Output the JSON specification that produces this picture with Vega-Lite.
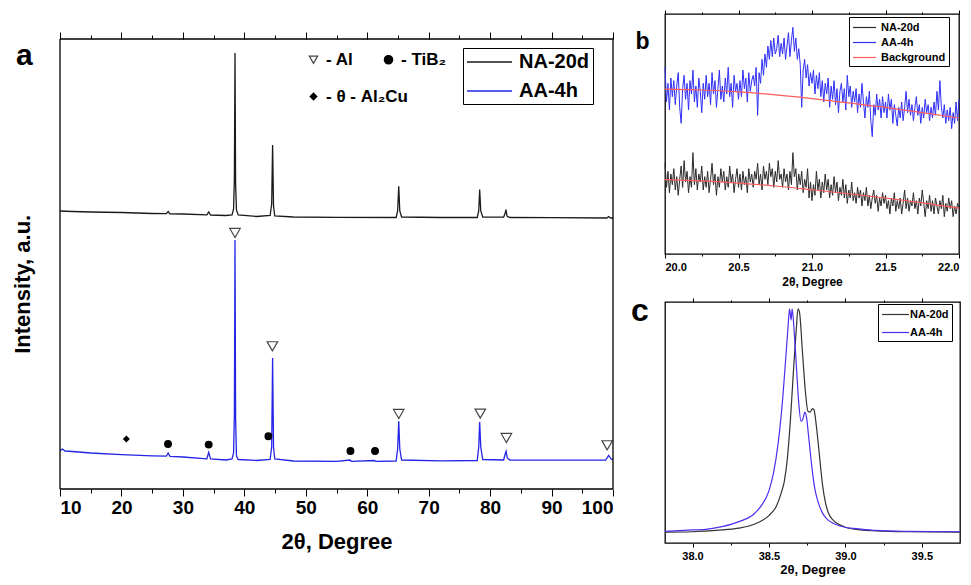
{
"$schema": "https://vega.github.io/schema/vega-lite/v6.json",
"padding": {"left": 12, "top": 8, "right": 5, "bottom": 0},
"background": "white",
"config": {
  "font": "Liberation Sans",
  "view": {"stroke": "#000", "strokeWidth": 1.3},
  "axis": {"domain": false, "grid": false, "tickColor": "#000", "tickWidth": 1, "labelColor": "#000", "titleColor": "#000", "labelFontWeight": "bold", "titleFontWeight": "bold"},
  "legend": {"strokeColor": "#000", "fillColor": "#fff", "labelColor": "#000"},
  "title": {"color": "#000"}
},
"resolve": {"scale": {"color": "independent", "shape": "independent", "fill": "independent", "stroke": "independent"}},
"columns": 2,
"spacing": 14,
"concat": [
 {
  "width": 553, "height": 475,
  "view": {"stroke": null},
  "resolve": {"axis": {"x": "independent"}, "scale": {"shape": "independent", "fill": "independent", "stroke": "independent"}},
  "layer": [
   {
    "data": {"values": [
     {"s":"NA-20d","x":10,"I":278},{"s":"NA-20d","x":12,"I":277.5},{"s":"NA-20d","x":15,"I":277},{"s":"NA-20d","x":20,"I":276.5},{"s":"NA-20d","x":25,"I":275.5},
     {"s":"NA-20d","x":27.3,"I":275.3},{"s":"NA-20d","x":27.6,"I":277.5},{"s":"NA-20d","x":27.9,"I":275.2},{"s":"NA-20d","x":30,"I":275},
     {"s":"NA-20d","x":33.9,"I":274.2},{"s":"NA-20d","x":34.2,"I":277},{"s":"NA-20d","x":34.5,"I":274},{"s":"NA-20d","x":37,"I":273.5},
     {"s":"NA-20d","x":38.0,"I":274},{"s":"NA-20d","x":38.25,"I":280},{"s":"NA-20d","x":38.38,"I":310},{"s":"NA-20d","x":38.48,"I":436},{"s":"NA-20d","x":38.58,"I":305},{"s":"NA-20d","x":38.72,"I":279},
     {"s":"NA-20d","x":39,"I":274},{"s":"NA-20d","x":42,"I":272.5},{"s":"NA-20d","x":44.2,"I":273.5},{"s":"NA-20d","x":44.45,"I":285},{"s":"NA-20d","x":44.6,"I":344},{"s":"NA-20d","x":44.75,"I":283},{"s":"NA-20d","x":44.95,"I":273},
     {"s":"NA-20d","x":48,"I":272},{"s":"NA-20d","x":55,"I":271.7},{"s":"NA-20d","x":64.7,"I":271.5},{"s":"NA-20d","x":64.95,"I":278},{"s":"NA-20d","x":65.13,"I":302.7},{"s":"NA-20d","x":65.3,"I":278},{"s":"NA-20d","x":65.6,"I":272},
     {"s":"NA-20d","x":72,"I":271.5},{"s":"NA-20d","x":77.9,"I":271.5},{"s":"NA-20d","x":78.15,"I":278},{"s":"NA-20d","x":78.3,"I":299.4},{"s":"NA-20d","x":78.48,"I":278},{"s":"NA-20d","x":78.8,"I":272},
     {"s":"NA-20d","x":82.2,"I":271.8},{"s":"NA-20d","x":82.45,"I":276},{"s":"NA-20d","x":82.58,"I":279.4},{"s":"NA-20d","x":82.75,"I":273},{"s":"NA-20d","x":83.2,"I":271.5},
     {"s":"NA-20d","x":90,"I":271.3},{"s":"NA-20d","x":99,"I":271},{"s":"NA-20d","x":99.3,"I":272.5},{"s":"NA-20d","x":99.6,"I":271},{"s":"NA-20d","x":100,"I":271},
     {"s":"AA-4h","x":10,"I":38.4},{"s":"AA-4h","x":10.4,"I":40},{"s":"AA-4h","x":10.8,"I":38},{"s":"AA-4h","x":12,"I":37.5},{"s":"AA-4h","x":15,"I":36},{"s":"AA-4h","x":20,"I":34.4},{"s":"AA-4h","x":25,"I":33.2},
     {"s":"AA-4h","x":27.3,"I":32.8},{"s":"AA-4h","x":27.6,"I":36},{"s":"AA-4h","x":27.9,"I":32.6},{"s":"AA-4h","x":30,"I":32},
     {"s":"AA-4h","x":33.9,"I":30.2},{"s":"AA-4h","x":34.2,"I":36.7},{"s":"AA-4h","x":34.5,"I":30},{"s":"AA-4h","x":37,"I":29},
     {"s":"AA-4h","x":38.0,"I":30},{"s":"AA-4h","x":38.25,"I":36},{"s":"AA-4h","x":38.38,"I":75},{"s":"AA-4h","x":38.48,"I":249},{"s":"AA-4h","x":38.58,"I":70},{"s":"AA-4h","x":38.72,"I":33},
     {"s":"AA-4h","x":39,"I":29.5},{"s":"AA-4h","x":42,"I":28.5},{"s":"AA-4h","x":44.2,"I":29.5},{"s":"AA-4h","x":44.45,"I":42},{"s":"AA-4h","x":44.6,"I":131},{"s":"AA-4h","x":44.75,"I":42},{"s":"AA-4h","x":44.95,"I":30},
     {"s":"AA-4h","x":48,"I":28},{"s":"AA-4h","x":55,"I":27.7},{"s":"AA-4h","x":57.2,"I":29},{"s":"AA-4h","x":57.4,"I":27.7},{"s":"AA-4h","x":61.2,"I":28.5},{"s":"AA-4h","x":61.4,"I":27.6},
     {"s":"AA-4h","x":64.7,"I":28},{"s":"AA-4h","x":64.95,"I":40},{"s":"AA-4h","x":65.13,"I":67.7},{"s":"AA-4h","x":65.3,"I":40},{"s":"AA-4h","x":65.6,"I":29},
     {"s":"AA-4h","x":72,"I":28.2},{"s":"AA-4h","x":77.9,"I":28.5},{"s":"AA-4h","x":78.15,"I":42},{"s":"AA-4h","x":78.3,"I":67},{"s":"AA-4h","x":78.48,"I":42},{"s":"AA-4h","x":78.8,"I":29.5},
     {"s":"AA-4h","x":82.2,"I":29},{"s":"AA-4h","x":82.45,"I":35},{"s":"AA-4h","x":82.6,"I":37.7},{"s":"AA-4h","x":82.8,"I":31},{"s":"AA-4h","x":83.2,"I":29},
     {"s":"AA-4h","x":90,"I":28.8},{"s":"AA-4h","x":98.8,"I":29},{"s":"AA-4h","x":99.3,"I":33.5},{"s":"AA-4h","x":99.7,"I":30},{"s":"AA-4h","x":100,"I":29.5}
    ]},
    "mark": {"type": "line", "strokeWidth": 1.3},
    "encoding": {
     "x": {"field": "x", "type": "quantitative", "scale": {"domain": [10, 100], "nice": false},
       "axis": {"orient": "bottom", "values": [10,15,20,25,30,35,40,45,50,55,60,65,70,75,80,85,90,95,100],
         "labelExpr": "datum.value % 10 === 0 ? datum.label : ''",
         "tickSize": {"condition": {"test": "datum.value % 10 !== 0", "value": 4}, "value": 7},
         "labelFontSize": 19, "labelPadding": 2, "title": "2θ, Degree", "titleFontSize": 22, "titlePadding": 14}},
     "y": {"field": "I", "type": "quantitative", "scale": {"domain": [0, 475], "nice": false}, "axis": null},
     "color": {"field": "s", "type": "nominal", "scale": {"domain": ["NA-20d", "AA-4h"], "range": ["#1a1a1a", "#2424e6"]},
       "legend": {"title": null, "orient": "none", "legendX": 403, "legendY": 34, "symbolType": "M-1,0H3.5", "symbolSize": 400, "symbolStrokeWidth": 1.5,
         "labelFontSize": 20, "labelFontWeight": "bold", "padding": 3, "rowPadding": 8, "labelOffset": 31, "strokeColor": "#000", "fillColor": "#fff"}}
    }
   },
   {
    "data": {"values": [
     {"p":"- Al","x":38.48,"I":256},{"p":"- Al","x":44.57,"I":142.7},{"p":"- Al","x":65.13,"I":75},{"p":"- Al","x":78.4,"I":75.4},{"p":"- Al","x":82.65,"I":51},{"p":"- Al","x":99.05,"I":43.7},
     {"p":"- TiB₂","x":27.58,"I":45},{"p":"- TiB₂","x":34.2,"I":44.4},{"p":"- TiB₂","x":43.92,"I":52.7},{"p":"- TiB₂","x":57.27,"I":38},{"p":"- TiB₂","x":61.27,"I":38}
    ]},
    "mark": {"type": "point", "strokeWidth": 1.2, "opacity": 1},
    "encoding": {
     "x": {"field": "x", "type": "quantitative",
       "axis": {"orient": "top", "offset": -25, "values": [10,15,20,25,30,35,40,45,50,55,60,65,70,75,80,85,90,95,100], "labels": false,
         "tickSize": {"condition": {"test": "datum.value % 10 !== 0", "value": 4}, "value": 7}, "title": null}},
     "y": {"field": "I", "type": "quantitative", "axis": null},
     "shape": {"field": "p", "type": "nominal", "scale": {"domain": ["- Al", "- TiB₂"], "range": ["triangle-down", "circle"]},
       "legend": {"title": null, "orient": "none", "legendX": 245, "legendY": 37, "direction": "horizontal", "columnPadding": 26,
         "symbolSize": 70, "symbolStrokeWidth": 1.2, "labelFontSize": 17, "labelFontWeight": "bold", "labelOffset": 4, "padding": 0,
         "strokeColor": "transparent", "fillColor": "transparent"}},
     "fill": {"field": "p", "type": "nominal", "scale": {"domain": ["- Al", "- TiB₂"], "range": ["transparent", "#000"]}},
     "stroke": {"field": "p", "type": "nominal", "scale": {"domain": ["- Al", "- TiB₂"], "range": ["#444", "#000"]}},
     "size": {"condition": {"test": "datum.p === '- Al'", "value": 110}, "value": 45}
    }
   },
   {
    "data": {"values": [{"p":"- θ - Al₂Cu","x":20.8,"I":50}]},
    "mark": {"type": "point", "filled": true, "color": "#000", "opacity": 1, "size": 50},
    "encoding": {
     "x": {"field": "x", "type": "quantitative", "axis": null},
     "y": {"field": "I", "type": "quantitative", "axis": null},
     "shape": {"field": "p", "type": "nominal", "scale": {"domain": ["- θ - Al₂Cu"], "range": ["diamond"]},
       "legend": {"title": null, "orient": "none", "legendX": 245, "legendY": 74,
         "symbolSize": 70, "labelFontSize": 17, "labelFontWeight": "bold", "labelOffset": 4, "padding": 0,
         "strokeColor": "transparent", "fillColor": "transparent"}}
    }
   },
   {
    "data": {"values": [
     {"x":10,"x2":100,"I":450,"I2":450},{"x":10,"x2":100,"I":0,"I2":0},{"x":10,"x2":10,"I":0,"I2":450},{"x":100,"x2":100,"I":0,"I2":450}
    ]},
    "mark": {"type": "rule", "color": "#000", "strokeWidth": 1.3},
    "encoding": {
     "x": {"field": "x", "type": "quantitative", "axis": null},
     "x2": {"field": "x2"},
     "y": {"field": "I", "type": "quantitative", "axis": null},
     "y2": {"field": "I2"}
    }
   },
   {
    "data": {"values": [
     {"t":"a","x":4.2,"I":433,"a":0,"fs":30},
     {"t":"Intensity, a.u.","x":4.0,"I":204.7,"a":270,"fs":22}
    ]},
    "mark": {"type": "text", "fontWeight": "bold", "color": "#000", "align": "center", "baseline": "middle"},
    "encoding": {
     "x": {"field": "x", "type": "quantitative", "axis": null},
     "y": {"field": "I", "type": "quantitative", "axis": null},
     "text": {"field": "t"},
     "angle": {"field": "a", "type": "quantitative", "scale": null},
     "size": {"field": "fs", "type": "quantitative", "scale": null}
    }
   }
  ]
 },
 {
  "resolve": {"scale": {"color": "independent"}},
  "spacing": 6,
  "vconcat": [
   {
    "width": 294, "height": 240,
    "resolve": {"axis": {"x": "independent"}},
    "layer": [
     {
      "data": {"values": [
{"x":20.00,"N":2.9,"A":6.5},{"x":20.01,"N":2.0,"A":5.2},{"x":20.02,"N":2.6,"A":5.9},{"x":20.03,"N":1.8,"A":4.9},{"x":20.04,"N":2.5,"A":6.1},{"x":20.05,"N":2.1,"A":5.4},{"x":20.06,"N":2.7,"A":6.0},{"x":20.07,"N":1.9,"A":5.1},{"x":20.08,"N":2.4,"A":5.8},{"x":20.09,"N":1.7,"A":6.3},
{"x":20.10,"N":2.3,"A":5.0},{"x":20.11,"N":2.8,"A":4.4},{"x":20.12,"N":2.0,"A":5.7},{"x":20.13,"N":3.0,"A":6.2},{"x":20.14,"N":2.2,"A":5.3},{"x":20.15,"N":2.6,"A":5.9},{"x":20.16,"N":1.8,"A":4.9},{"x":20.17,"N":2.4,"A":6.0},{"x":20.18,"N":2.0,"A":5.5},{"x":20.19,"N":3.3,"A":6.4},
{"x":20.20,"N":2.1,"A":5.2},{"x":20.21,"N":2.7,"A":5.8},{"x":20.22,"N":1.9,"A":5.0},{"x":20.23,"N":2.5,"A":6.1},{"x":20.24,"N":2.2,"A":5.6},{"x":20.25,"N":2.8,"A":4.8},{"x":20.26,"N":1.9,"A":5.9},{"x":20.27,"N":2.4,"A":5.3},{"x":20.28,"N":2.0,"A":6.2},{"x":20.29,"N":2.6,"A":5.4},
{"x":20.30,"N":1.8,"A":5.9},{"x":20.31,"N":2.3,"A":5.1},{"x":20.32,"N":2.9,"A":6.3},{"x":20.33,"N":2.1,"A":5.5},{"x":20.34,"N":2.5,"A":6.0},{"x":20.35,"N":1.7,"A":5.0},{"x":20.36,"N":2.4,"A":5.7},{"x":20.37,"N":2.0,"A":6.4},{"x":20.38,"N":2.7,"A":5.3},{"x":20.39,"N":2.2,"A":5.8},
{"x":20.40,"N":2.6,"A":5.2},{"x":20.41,"N":1.9,"A":6.1},{"x":20.42,"N":2.4,"A":5.5},{"x":20.43,"N":2.0,"A":6.5},{"x":20.44,"N":2.8,"A":5.4},{"x":20.45,"N":2.2,"A":5.9},{"x":20.46,"N":2.5,"A":5.0},{"x":20.47,"N":1.8,"A":6.2},{"x":20.48,"N":2.3,"A":5.6},{"x":20.49,"N":2.7,"A":5.9},
{"x":20.50,"N":2.0,"A":5.3},{"x":20.51,"N":2.5,"A":6.0},{"x":20.52,"N":1.9,"A":5.4},{"x":20.53,"N":2.6,"A":6.4},{"x":20.54,"N":2.1,"A":5.7},{"x":20.55,"N":2.4,"A":6.1},{"x":20.56,"N":1.8,"A":5.2},{"x":20.57,"N":2.7,"A":6.3},{"x":20.58,"N":2.2,"A":5.6},{"x":20.59,"N":2.5,"A":6.0},
{"x":20.60,"N":2.0,"A":6.2},{"x":20.61,"N":2.6,"A":5.8},{"x":20.62,"N":2.3,"A":6.5},{"x":20.63,"N":2.9,"A":4.7},{"x":20.64,"N":2.1,"A":6.3},{"x":20.65,"N":2.5,"A":5.9},{"x":20.66,"N":1.9,"A":6.8},{"x":20.67,"N":2.8,"A":6.2},{"x":20.68,"N":2.3,"A":7.0},{"x":20.69,"N":2.6,"A":6.5},
{"x":20.70,"N":2.1,"A":7.3},{"x":20.71,"N":2.9,"A":6.8},{"x":20.72,"N":2.4,"A":7.5},{"x":20.73,"N":2.7,"A":6.9},{"x":20.74,"N":2.0,"A":7.6},{"x":20.75,"N":2.6,"A":7.0},{"x":20.76,"N":2.2,"A":7.2},{"x":20.77,"N":3.0,"A":7.7},{"x":20.78,"N":2.3,"A":6.9},{"x":20.79,"N":2.5,"A":7.4},
{"x":20.80,"N":2.0,"A":7.0},{"x":20.81,"N":2.7,"A":7.6},{"x":20.82,"N":2.2,"A":6.8},{"x":20.83,"N":2.5,"A":7.3},{"x":20.84,"N":1.9,"A":7.8},{"x":20.85,"N":2.6,"A":6.9},{"x":20.86,"N":2.1,"A":7.5},{"x":20.87,"N":3.3,"A":8.0},{"x":20.88,"N":2.4,"A":7.1},{"x":20.89,"N":2.7,"A":7.6},
{"x":20.90,"N":1.9,"A":6.8},{"x":20.91,"N":2.5,"A":7.2},{"x":20.92,"N":2.1,"A":6.6},{"x":20.93,"N":2.6,"A":5.0},{"x":20.94,"N":1.8,"A":6.4},{"x":20.95,"N":2.3,"A":6.8},{"x":20.96,"N":2.0,"A":6.1},{"x":20.97,"N":2.7,"A":6.6},{"x":20.98,"N":1.6,"A":5.8},{"x":20.99,"N":2.2,"A":6.3},
{"x":21.00,"N":1.5,"A":5.9},{"x":21.01,"N":2.1,"A":6.4},{"x":21.02,"N":1.7,"A":5.5},{"x":21.03,"N":2.6,"A":6.2},{"x":21.04,"N":1.9,"A":5.7},{"x":21.05,"N":2.3,"A":6.3},{"x":21.06,"N":1.6,"A":5.4},{"x":21.07,"N":2.2,"A":6.0},{"x":21.08,"N":1.8,"A":5.2},{"x":21.09,"N":2.5,"A":5.9},
{"x":21.10,"N":1.9,"A":5.5},{"x":21.11,"N":2.3,"A":6.1},{"x":21.12,"N":1.6,"A":5.0},{"x":21.13,"N":2.1,"A":5.8},{"x":21.14,"N":1.7,"A":5.3},{"x":21.15,"N":2.4,"A":6.0},{"x":21.16,"N":1.8,"A":5.1},{"x":21.17,"N":2.2,"A":5.7},{"x":21.18,"N":1.5,"A":4.8},{"x":21.19,"N":2.0,"A":5.6},
{"x":21.20,"N":1.7,"A":5.9},{"x":21.21,"N":2.3,"A":5.2},{"x":21.22,"N":1.6,"A":5.7},{"x":21.23,"N":2.1,"A":4.9},{"x":21.24,"N":1.4,"A":6.2},{"x":21.25,"N":1.9,"A":5.4},{"x":21.26,"N":1.6,"A":5.8},{"x":21.27,"N":2.2,"A":5.0},{"x":21.28,"N":1.5,"A":5.6},{"x":21.29,"N":1.8,"A":5.2},
{"x":21.30,"N":1.4,"A":5.7},{"x":21.31,"N":2.0,"A":4.8},{"x":21.32,"N":1.6,"A":5.5},{"x":21.33,"N":1.9,"A":5.0},{"x":21.34,"N":1.3,"A":5.9},{"x":21.35,"N":1.8,"A":5.2},{"x":21.36,"N":1.5,"A":4.6},{"x":21.37,"N":2.0,"A":5.4},{"x":21.38,"N":1.3,"A":5.0},{"x":21.39,"N":1.7,"A":5.6},
{"x":21.40,"N":1.2,"A":4.5},{"x":21.41,"N":1.6,"A":3.9},{"x":21.42,"N":1.9,"A":5.1},{"x":21.43,"N":1.4,"A":4.7},{"x":21.44,"N":1.7,"A":5.5},{"x":21.45,"N":1.1,"A":4.9},{"x":21.46,"N":1.6,"A":5.3},{"x":21.47,"N":1.3,"A":4.6},{"x":21.48,"N":1.8,"A":5.4},{"x":21.49,"N":1.4,"A":4.8},
{"x":21.50,"N":1.7,"A":5.2},{"x":21.51,"N":1.2,"A":4.6},{"x":21.52,"N":1.5,"A":5.5},{"x":21.53,"N":1.0,"A":4.9},{"x":21.54,"N":1.6,"A":5.3},{"x":21.55,"N":1.3,"A":4.4},{"x":21.56,"N":1.8,"A":5.1},{"x":21.57,"N":1.1,"A":4.7},{"x":21.58,"N":1.5,"A":4.3},{"x":21.59,"N":1.2,"A":5.0},
{"x":21.60,"N":1.6,"A":4.6},{"x":21.61,"N":1.0,"A":5.2},{"x":21.62,"N":1.4,"A":4.5},{"x":21.63,"N":1.9,"A":5.0},{"x":21.64,"N":1.2,"A":5.6},{"x":21.65,"N":1.6,"A":4.8},{"x":21.66,"N":1.1,"A":5.3},{"x":21.67,"N":1.5,"A":4.7},{"x":21.68,"N":1.3,"A":5.1},{"x":21.69,"N":1.8,"A":4.5},
{"x":21.70,"N":1.2,"A":5.0},{"x":21.71,"N":1.5,"A":5.4},{"x":21.72,"N":1.0,"A":4.7},{"x":21.73,"N":1.6,"A":5.1},{"x":21.74,"N":1.3,"A":4.4},{"x":21.75,"N":1.9,"A":5.0},{"x":21.76,"N":1.4,"A":4.6},{"x":21.77,"N":0.9,"A":5.3},{"x":21.78,"N":1.5,"A":4.8},{"x":21.79,"N":1.2,"A":5.1},
{"x":21.80,"N":1.7,"A":4.5},{"x":21.81,"N":1.1,"A":5.0},{"x":21.82,"N":1.5,"A":4.6},{"x":21.83,"N":1.0,"A":5.2},{"x":21.84,"N":1.6,"A":4.7},{"x":21.85,"N":1.3,"A":5.6},{"x":21.86,"N":1.0,"A":4.9},{"x":21.87,"N":1.5,"A":6.0},{"x":21.88,"N":1.2,"A":5.0},{"x":21.89,"N":1.7,"A":4.6},
{"x":21.90,"N":0.9,"A":5.1},{"x":21.91,"N":1.4,"A":4.4},{"x":21.92,"N":1.1,"A":4.9},{"x":21.93,"N":1.6,"A":4.5},{"x":21.94,"N":1.2,"A":5.0},{"x":21.95,"N":1.5,"A":4.2},{"x":21.96,"N":0.9,"A":4.8},{"x":21.97,"N":1.3,"A":4.4},{"x":21.98,"N":1.0,"A":5.2},{"x":21.99,"N":1.4,"A":4.5},
{"x":22.00,"N":1.2,"A":5.3}
      ]},
      "transform": [{"fold": ["N", "A"], "as": ["s", "I"]}],
      "mark": {"type": "line", "strokeWidth": 1},
      "encoding": {
       "x": {"field": "x", "type": "quantitative", "scale": {"domain": [20, 22], "nice": false},
         "axis": {"orient": "bottom", "values": [20,20.25,20.5,20.75,21,21.25,21.5,21.75,22],
           "labelExpr": "(datum.value * 2) % 1 === 0 ? format(datum.value, '.1f') : ''",
           "tickSize": {"condition": {"test": "(datum.value * 2) % 1 !== 0", "value": 2}, "value": 4},
           "labelFontSize": 11, "labelPadding": 3, "title": "2θ, Degree", "titleFontSize": 12, "titlePadding": 4}},
       "y": {"field": "I", "type": "quantitative", "scale": {"domain": [-0.5, 8.5], "nice": false},
         "axis": {"values": [0,1,2,3,4,5,6,7,8], "tickSize": 4, "labels": false, "title": "Intensity, a.u.", "titleFontSize": 12, "titlePadding": 17}},
       "color": {"field": "s", "type": "nominal", "scale": {"domain": ["N", "A", "Background"], "range": ["#2a2a2a", "#3030f5", "#ff5c5c"]},
         "legend": {"title": null, "orient": "none", "legendX": 184, "legendY": 3, "symbolType": "M-1,0H2.54", "symbolSize": 169, "symbolStrokeWidth": 1.2,
           "labelExpr": "datum.label === 'N' ? 'NA-20d' : datum.label === 'A' ? 'AA-4h' : datum.label",
           "labelFontSize": 11, "labelFontWeight": "bold", "padding": 3, "rowPadding": 2, "labelOffset": 14}}
      }
     },
     {
      "data": {"values": [
       {"x":20.0,"hi":5.68,"lo":2.29},{"x":20.25,"hi":5.65,"lo":2.24},{"x":20.5,"hi":5.58,"lo":2.16},{"x":20.75,"hi":5.47,"lo":2.05},{"x":21.0,"hi":5.33,"lo":1.91},
       {"x":21.25,"hi":5.17,"lo":1.76},{"x":21.5,"hi":5.0,"lo":1.6},{"x":21.75,"hi":4.8,"lo":1.42},{"x":22.0,"hi":4.6,"lo":1.22}
      ]},
      "transform": [{"fold": ["hi", "lo"], "as": ["k", "I"]}],
      "mark": {"type": "line", "strokeWidth": 1.2, "interpolate": "monotone"},
      "encoding": {
       "x": {"field": "x", "type": "quantitative",
         "axis": {"orient": "top", "values": [20,20.25,20.5,20.75,21,21.25,21.5,21.75,22], "labels": false,
           "tickSize": {"condition": {"test": "(datum.value * 2) % 1 !== 0", "value": 2}, "value": 4}, "title": null}},
       "y": {"field": "I", "type": "quantitative", "axis": {"values": [0,1,2,3,4,5,6,7,8], "tickSize": 4, "labels": false, "title": "Intensity, a.u.", "titleFontSize": 12, "titlePadding": 17}},
       "color": {"datum": "Background", "type": "nominal"},
       "detail": {"field": "k", "type": "nominal"}
      }
     },
     {
      "data": {"values": [{"t":"b","x":19.8,"I":7.18}]},
      "mark": {"type": "text", "fontWeight": "bold", "fontSize": 23, "align": "left", "baseline": "alphabetic", "color": "#000"},
      "encoding": {
       "x": {"field": "x", "type": "quantitative", "axis": null},
       "y": {"field": "I", "type": "quantitative", "axis": null},
       "text": {"field": "t"}
      }
     }
    ]
   },
   {
    "width": 295, "height": 241,
    "resolve": {"axis": {"x": "independent"}},
    "layer": [
     {
      "data": {"values": [
       {"x":37.82,"I":0.03},{"x":38.0,"I":0.04},{"x":38.1,"I":0.06},{"x":38.2,"I":0.08},{"x":38.3,"I":0.12},{"x":38.4,"I":0.2},{"x":38.45,"I":0.28},{"x":38.5,"I":0.4},
       {"x":38.55,"I":0.62},{"x":38.58,"I":0.9},{"x":38.6,"I":1.15},{"x":38.62,"I":1.65},{"x":38.64,"I":2.5},{"x":38.66,"I":3.6},{"x":38.68,"I":4.6},{"x":38.69,"I":5.0},
       {"x":38.7,"I":4.92},{"x":38.72,"I":4.0},{"x":38.74,"I":3.1},{"x":38.755,"I":2.72},{"x":38.77,"I":2.7},{"x":38.785,"I":2.78},{"x":38.795,"I":2.75},{"x":38.81,"I":2.4},
       {"x":38.83,"I":1.75},{"x":38.85,"I":1.1},{"x":38.87,"I":0.68},{"x":38.89,"I":0.45},{"x":38.92,"I":0.3},{"x":38.96,"I":0.2},{"x":39.0,"I":0.14},{"x":39.1,"I":0.08},
       {"x":39.2,"I":0.06},{"x":39.4,"I":0.04},{"x":39.75,"I":0.03}
      ]},
      "mark": {"type": "line", "strokeWidth": 1.2, "interpolate": "monotone"},
      "encoding": {
       "x": {"field": "x", "type": "quantitative", "scale": {"domain": [37.82, 39.75], "nice": false},
         "axis": {"orient": "bottom", "values": [38,38.25,38.5,38.75,39,39.25,39.5],
           "labelExpr": "(datum.value * 2) % 1 === 0 ? format(datum.value, '.1f') : ''",
           "tickSize": {"condition": {"test": "(datum.value * 2) % 1 !== 0", "value": 2}, "value": 4},
           "labelFontSize": 11, "labelPadding": 3, "title": "2θ, Degree", "titleFontSize": 13, "titlePadding": 2}},
       "y": {"field": "I", "type": "quantitative", "scale": {"domain": [-0.21, 5.15], "nice": false},
         "axis": {"values": [0,1,2,3,4,5], "tickSize": 4, "labels": false, "title": "Intensity, a.u.", "titleFontSize": 12, "titlePadding": 17}},
       "color": {"datum": "NA-20d", "type": "nominal", "scale": {"domain": ["NA-20d", "AA-4h"], "range": ["#333333", "#4b2ff0"]},
         "legend": {"title": null, "orient": "none", "legendX": 213, "legendY": 2, "symbolType": "M-1,0H3.15", "symbolSize": 169, "symbolStrokeWidth": 1.2,
           "labelFontSize": 11, "labelFontWeight": "bold", "padding": 3, "rowPadding": 5, "labelOffset": 14}}
      }
     },
     {
      "data": {"values": [
       {"x":37.82,"I":0.05},{"x":38.0,"I":0.08},{"x":38.1,"I":0.1},{"x":38.2,"I":0.16},{"x":38.3,"I":0.26},{"x":38.4,"I":0.43},{"x":38.45,"I":0.62},{"x":38.5,"I":0.95},
       {"x":38.53,"I":1.35},{"x":38.56,"I":2.0},{"x":38.59,"I":3.0},{"x":38.61,"I":3.9},{"x":38.625,"I":4.6},{"x":38.635,"I":5.0},{"x":38.645,"I":4.75},{"x":38.652,"I":5.0},
       {"x":38.665,"I":4.5},{"x":38.68,"I":3.7},{"x":38.695,"I":2.9},{"x":38.71,"I":2.5},{"x":38.722,"I":2.55},{"x":38.735,"I":2.7},{"x":38.745,"I":2.6},{"x":38.76,"I":2.15},
       {"x":38.78,"I":1.5},{"x":38.8,"I":1.0},{"x":38.82,"I":0.72},{"x":38.85,"I":0.46},{"x":38.88,"I":0.32},{"x":38.92,"I":0.23},{"x":39.0,"I":0.14},{"x":39.1,"I":0.1},
       {"x":39.2,"I":0.07},{"x":39.4,"I":0.05},{"x":39.75,"I":0.04}
      ]},
      "mark": {"type": "line", "strokeWidth": 1.2, "interpolate": "monotone"},
      "encoding": {
       "x": {"field": "x", "type": "quantitative",
         "axis": {"orient": "top", "values": [38,38.25,38.5,38.75,39,39.25,39.5], "labels": false,
           "tickSize": {"condition": {"test": "(datum.value * 2) % 1 !== 0", "value": 2}, "value": 4}, "title": null}},
       "y": {"field": "I", "type": "quantitative", "axis": {"values": [0,1,2,3,4,5], "tickSize": 4, "labels": false, "title": "Intensity, a.u.", "titleFontSize": 12, "titlePadding": 17}},
       "color": {"datum": "AA-4h", "type": "nominal"}
      }
     },
     {
      "data": {"values": [{"t":"c","x":37.598,"I":4.73}]},
      "mark": {"type": "text", "fontWeight": "bold", "fontSize": 32, "align": "left", "baseline": "alphabetic", "color": "#000"},
      "encoding": {
       "x": {"field": "x", "type": "quantitative", "axis": null},
       "y": {"field": "I", "type": "quantitative", "axis": null},
       "text": {"field": "t"}
      }
     }
    ]
   }
  ]
 }
]
}
